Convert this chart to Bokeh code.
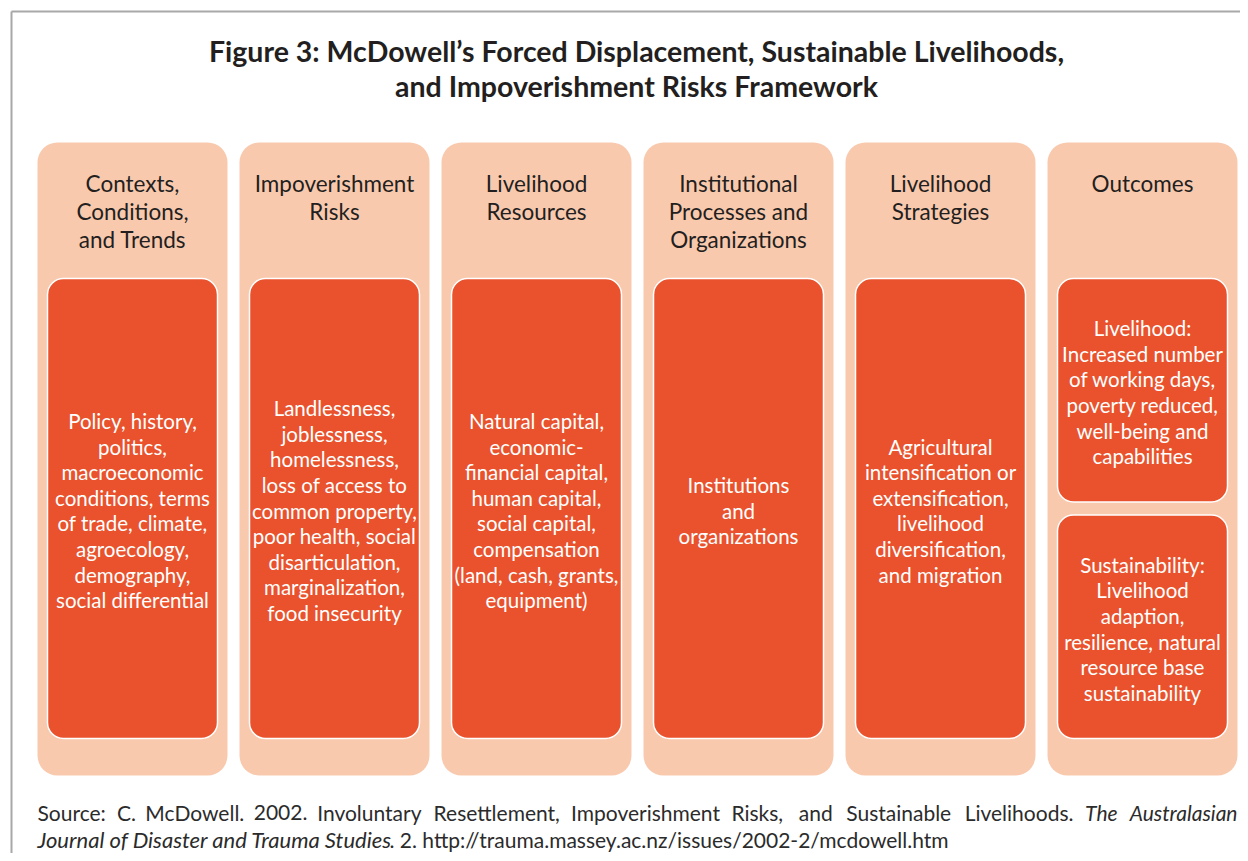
from bokeh.plotting import figure
from bokeh.models import Range1d, ColumnDataSource
from bokeh.embed import file_html
from bokeh.resources import INLINE
from bokeh.core.properties import value

# ---------------- content ----------------
title_lines = ["Figure 3: McDowell\u2019s Forced Displacement, Sustainable Livelihoods,",
               "and Impoverishment Risks Framework"]

headers = [
    ["Contexts,", "Conditions,", "and Trends"],
    ["Impoverishment", "Risks"],
    ["Livelihood", "Resources"],
    ["Institutional", "Processes and", "Organizations"],
    ["Livelihood", "Strategies"],
    ["Outcomes"],
]

bodies = [
    [["Policy, history,", "politics,", "macroeconomic", "conditions, terms",
      "of trade, climate,", "agroecology,", "demography,", "social differential"]],
    [["Landlessness,", "joblessness,", "homelessness,", "loss of access to",
      "common property,", "poor health, social", "disarticulation,",
      "marginalization,", "food insecurity"]],
    [["Natural capital,", "economic-", "financial capital,", "human capital,",
      "social capital,", "compensation", "(land, cash, grants,", "equipment)"]],
    [["Institutions", "and", "organizations"]],
    [["Agricultural", "intensification or", "extensification,", "livelihood",
      "diversification,", "and migration"]],
    [["Livelihood:", "Increased number", "of working days,", "poverty reduced,",
      "well-being and", "capabilities"],
     ["Sustainability:", "Livelihood", "adaption,", "resilience, natural",
      "resource base", "sustainability"]],
]

source_line1_words = ["Source:", "C.", "McDowell.", "2002.", "Involuntary", "Resettlement,",
                      "Impoverishment", "Risks,", "and", "Sustainable", "Livelihoods.",
                      "The", "Australasian"]
source_line1_italic = [False] * 11 + [True, True]
source_line2_italic = "Journal of Disaster and Trauma Studies"
source_line2_regular = ". 2. http://trauma.massey.ac.nz/issues/2002-2/mcdowell.htm"

# ---------------- style / layout ----------------
FONT = "Lato"
DARK = "#231F20"
PEACH = "#F9C9AE"
ORANGE = "#E9522C"
FRAME = "#A8A8A8"

W, H = 1240, 853
p = figure(width=W, height=H, x_range=Range1d(0, W), y_range=Range1d(H, 0),
           output_backend="svg", toolbar_location=None, min_border=0,
           x_axis_location=None, y_axis_location=None)
p.grid.visible = False
p.outline_line_color = None
p.background_fill_color = "white"
p.border_fill_color = "white"

# outer frame (top + left edge visible)
p.segment(x0=[11, 11], y0=[11, 11], x1=[11, 1400], y1=[1000, 11],
          line_color=FRAME, line_width=2)

# title
p.text(x=[636, 636], y=[50, 85], text=title_lines, text_align="center",
       text_baseline="middle", text_font=value(FONT), text_font_style="bold",
       text_font_size="28.5px", text_color=DARK)

COL_X0, COL_W, COL_PITCH = 37, 190, 202
OUT_TOP, OUT_BOT = 142, 775
IN_TOP, IN_BOT = 278, 738
IN_INSET = 10
SPLIT_GAP = 13

outer = dict(left=[], right=[], top=[], bottom=[])
inner = dict(left=[], right=[], top=[], bottom=[])
hdr = dict(x=[], y=[], text=[])
body = dict(x=[], y=[], text=[])

HDR_Y0, HDR_PITCH = 183, 28
BODY_PITCH = 25.6

for i, (hl, blocks) in enumerate(zip(headers, bodies)):
    l = COL_X0 + i * COL_PITCH
    r = l + COL_W
    cx = (l + r) / 2
    outer["left"].append(l); outer["right"].append(r)
    outer["top"].append(OUT_TOP); outer["bottom"].append(OUT_BOT)
    for j, t in enumerate(hl):
        hdr["x"].append(cx); hdr["y"].append(HDR_Y0 + j * HDR_PITCH); hdr["text"].append(t)
    n = len(blocks)
    bh = (IN_BOT - IN_TOP - (n - 1) * SPLIT_GAP) / n
    for k, lines in enumerate(blocks):
        t = IN_TOP + k * (bh + SPLIT_GAP)
        b = t + bh
        inner["left"].append(l + IN_INSET); inner["right"].append(r - IN_INSET)
        inner["top"].append(t); inner["bottom"].append(b)
        cy = (t + b) / 2 + 2
        m = len(lines)
        for q, line in enumerate(lines):
            body["x"].append(cx)
            body["y"].append(cy + (q - (m - 1) / 2) * BODY_PITCH)
            body["text"].append(line)

p.quad(source=ColumnDataSource(outer), left="left", right="right", top="top", bottom="bottom",
       fill_color=PEACH, line_color=None, border_radius=20)
p.quad(source=ColumnDataSource(inner), left="left", right="right", top="top", bottom="bottom",
       fill_color=ORANGE, line_color="white", line_width=1.5, border_radius=16)

p.text(source=ColumnDataSource(hdr), x="x", y="y", text="text", text_align="center",
       text_baseline="middle", text_font=value(FONT), text_font_size="22.5px", text_color=DARK)
p.text(source=ColumnDataSource(body), x="x", y="y", text="text", text_align="center",
       text_baseline="middle", text_font=value(FONT), text_font_size="20.5px", text_color="white")

# source note: first line is justified between the frame margins (37 .. 1237)
SRC_SIZE = "21px"
SRC_COL = "#2B2B2B"
LINE_L, LINE_R = 37, 1237
# approximate rendered widths of each word at 21px Lato (layout helper)
word_w = [67, 16, 96, 51, 104, 125, 148, 55, 35, 106, 108, 33, 107]
gap = (LINE_R - LINE_L - sum(word_w)) / (len(word_w) - 1)
xs, x = [], LINE_L
for w in word_w:
    xs.append(x)
    x += w + gap
reg = [k for k, it in enumerate(source_line1_italic) if not it]
ita = [k for k, it in enumerate(source_line1_italic) if it]
p.text(x=[xs[k] for k in reg], y=[812] * len(reg), text=[source_line1_words[k] for k in reg],
       text_align="left", text_baseline="middle",
       text_font=value(FONT), text_font_size=SRC_SIZE, text_color=SRC_COL)
p.text(x=[xs[ita[0]], LINE_R], y=[812, 812], text=[source_line1_words[k] for k in ita],
       text_align=["left", "right"], text_baseline="middle", text_font=value(FONT),
       text_font_style="italic", text_font_size=SRC_SIZE, text_color=SRC_COL)
p.text(x=[37], y=[839], text=[source_line2_italic], text_align="left", text_baseline="middle",
       text_font=value(FONT), text_font_style="italic", text_font_size="22px", text_color=SRC_COL)
p.text(x=[389], y=[839], text=[source_line2_regular], text_align="left", text_baseline="middle",
       text_font=value(FONT), text_font_size=SRC_SIZE, text_color=SRC_COL)

open("out.html", "w").write(file_html(p, INLINE))
